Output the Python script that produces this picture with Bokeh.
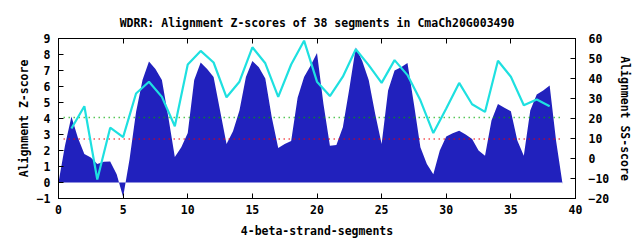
import math
from bokeh.plotting import figure
from bokeh.models import Range1d, LinearAxis, FixedTicker
from bokeh.embed import file_html
from bokeh.resources import INLINE

# ---- data ----
title_text = "WDRR: Alignment Z-scores of 38 segments in CmaCh20G003490"
x_label = "4-beta-strand-segments"
y_label = "Alignment Z-score"
y2_label = "Alignment SS-score"

# Z-score profile (filled), sampled at half-segment steps
z_pos = [i * 0.5 for i in range(79)]
z_val = [0.0, 2.3, 4.12, 2.8, 1.78, 1.57, 1.15, 1.3, 1.32, 0.52,
         -0.9, 1.47, 4.4, 6.4, 7.57, 7.1, 6.4, 4.08, 1.6, 2.2,
         3.1, 6.4, 7.5, 7.1, 6.6, 4.5, 2.4, 3.2, 4.5, 6.6,
         7.6, 7.2, 6.5, 4.08, 2.16, 2.4, 2.6, 5.3, 6.6, 7.3,
         8.1, 4.9, 2.3, 2.34, 3.45, 5.86, 8.43, 7.6, 6.4, 4.3,
         2.4, 5.75, 7.0, 7.2, 7.47, 4.9, 2.2, 1.15, 0.52, 2.0,
         2.87, 3.08, 3.24, 3.0, 2.72, 2.0, 1.67, 3.87, 4.9, 4.67,
         4.46, 2.62, 1.67, 4.5, 5.5, 5.75, 6.07, 2.6, -0.1]

# SS-score per segment (right axis)
ss_seg = list(range(1, 39))
ss_val = [15.0, 26.1, -10.5, 15.4, 10.7, 32.5, 38.4, 30.8, 16.1, 47.0,
          53.8, 48.0, 30.6, 38.4, 55.6, 47.6, 30.8, 47.0, 58.9, 38.4,
          31.2, 40.9, 54.6, 46.7, 37.8, 49.2, 41.7, 29.1, 12.7, 25.0,
          37.8, 27.1, 23.3, 48.9, 40.9, 26.6, 29.5, 26.1]

# reference threshold lines (Z-score scale)
thr_val = [4.06, 2.72]
thr_col = ["#00aa00", "#ee0000"]
thr_x0 = [0.4, 0.4]
thr_x1 = [39.0, 39.0]

x_ticks = [0, 5, 10, 15, 20, 25, 30, 35, 40]
y_ticks = list(range(-1, 10))
y2_ticks = [-20, -10, 0, 10, 20, 30, 40, 50, 60]

FONT = "DejaVu Sans Mono"
FS = "11.5px"

p = figure(width=640, height=240, output_backend="svg", toolbar_location=None,
           x_range=Range1d(0, 40), y_range=Range1d(-1, 9),
           min_border_left=58, min_border_right=65, min_border_top=38,
           min_border_bottom=42, title=title_text)
p.extra_y_ranges = {"ss": Range1d(-20, 60)}
p.background_fill_color = "white"
p.border_fill_color = "white"
p.outline_line_color = "black"
p.outline_line_width = 1
p.xgrid.visible = False
p.ygrid.visible = False

p.title.align = "center"
p.title.text_font = FONT
p.title.text_font_size = FS
p.title.text_font_style = "bold"
p.title.text_color = "black"
p.title.standoff = 17

# filled Z-score area
p.varea(x=z_pos, y1=[0] * len(z_pos), y2=z_val, fill_color="#2121bd", fill_alpha=1.0)

# threshold dotted lines
p.segment(x0=thr_x0, y0=thr_val, x1=thr_x1, y1=thr_val, line_color=thr_col,
          line_width=1.5, line_dash="1 4")

# SS-score line
p.line(x=ss_seg, y=ss_val, y_range_name="ss", line_color="#1ee0e0", line_width=2.2)

def style(ax, ticks, label_standoff, axis_standoff):
    ax.ticker = FixedTicker(ticks=ticks)
    ax.major_tick_in = 5
    ax.major_tick_out = 0
    ax.minor_tick_in = 0
    ax.minor_tick_out = 0
    ax.axis_line_color = "black"
    ax.major_tick_line_color = "black"
    ax.major_label_text_font = FONT
    ax.major_label_text_font_size = FS
    ax.major_label_text_font_style = "bold"
    ax.major_label_text_color = "black"
    ax.axis_label_text_font = FONT
    ax.axis_label_text_font_size = FS
    ax.axis_label_text_font_style = "bold"
    ax.axis_label_text_color = "black"
    ax.major_label_standoff = label_standoff
    ax.axis_label_standoff = axis_standoff

style(p.xaxis[0], x_ticks, 6, 7)
p.xaxis[0].axis_label = x_label
style(p.yaxis[0], y_ticks, 8, 3)
p.yaxis[0].axis_label = y_label

ax2 = LinearAxis(y_range_name="ss")
style(ax2, y2_ticks, 13, 6)
ax2.axis_label = y2_label
p.add_layout(ax2, "right")

top = LinearAxis()
style(top, x_ticks, 0, 0)
top.major_label_text_font_size = "0px"
top.major_label_text_alpha = 0
p.add_layout(top, "above")

open("out.html", "w").write(file_html(p, INLINE))
